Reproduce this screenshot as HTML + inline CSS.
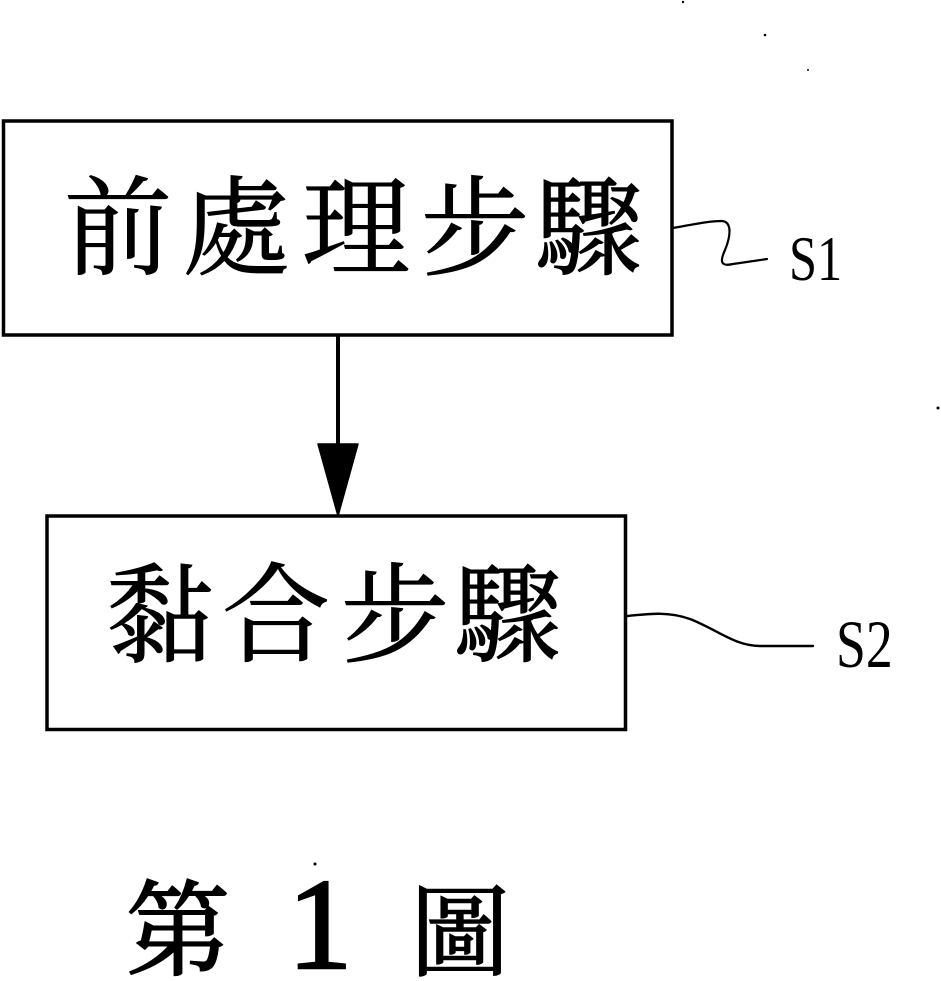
<!DOCTYPE html>
<html>
<head>
<meta charset="utf-8">
<style>
  html, body { margin: 0; padding: 0; background: #fff; }
  body { width: 941px; height: 981px; overflow: hidden; }
  svg { display: block; }
  .cjk { font-family: "Liberation Serif", "Noto Serif CJK SC", serif; font-size: 108px; fill: #000; stroke: #000; stroke-width: 1; }
  .lat { font-family: "Liberation Serif", serif; fill: #000; }
</style>
</head>
<body>
<svg width="941" height="981" viewBox="0 0 941 981" xmlns="http://www.w3.org/2000/svg">
  <rect x="0" y="0" width="941" height="981" fill="#fff"/>

  <!-- Box 1 -->
  <rect x="3.5" y="121" width="668.5" height="214" fill="none" stroke="#000" stroke-width="3.5"/>
  <g class="cjk" text-anchor="middle">
    <text x="118" y="266">前</text>
    <text x="236" y="266">處</text>
    <text x="356" y="266">理</text>
    <text x="475" y="266">步</text>
    <text x="589" y="266">驟</text>
  </g>

  <!-- S1 leader -->
  <path d="M673,228 C 690,225 708,221 722,221 C 733,222 730,238 725,250 C 720,261 720,267 733,264 L 767,259"
        fill="none" stroke="#000" stroke-width="2.2" stroke-linecap="round"/>
  <text class="lat" font-size="63" transform="translate(789,280) scale(0.8,1)">S1</text>

  <!-- Arrow -->
  <line x1="338" y1="335" x2="338" y2="448" stroke="#000" stroke-width="4"/>
  <path d="M318,444 L358,444 L338,516 Z" fill="#000" stroke="#000" stroke-width="1.5" stroke-linejoin="round"/>

  <!-- Box 2 -->
  <rect x="47" y="516" width="578.5" height="213.5" fill="none" stroke="#000" stroke-width="3.5"/>
  <g class="cjk" text-anchor="middle">
    <text x="160" y="653">黏</text>
    <text x="276" y="653">合</text>
    <text x="395" y="653">步</text>
    <text x="508" y="653">驟</text>
  </g>

  <!-- S2 leader -->
  <path d="M627,616 C 648,614 668,611 690,619 C 718,630 735,646 760,646 L 813,646"
        fill="none" stroke="#000" stroke-width="2.4" stroke-linecap="round"/>
  <text class="lat" font-size="68" transform="translate(836,667) scale(0.79,1)">S2</text>

  <!-- Caption -->
  <text class="cjk" x="178" y="967" text-anchor="middle" style="font-size:104px; stroke-width:2">第</text>
  <text class="lat" x="320" y="968" text-anchor="middle" font-size="130" stroke="#000" stroke-width="2.5">1</text>
  <text class="cjk" x="460" y="968" text-anchor="middle" style="font-size:100px; stroke-width:1.5">圖</text>

  <!-- specks -->
  <circle cx="683" cy="2" r="1.2" fill="#000"/>
  <circle cx="765" cy="35" r="1.3" fill="#000"/>
  <circle cx="808" cy="70" r="1" fill="#000"/>
  <circle cx="938" cy="408" r="1.5" fill="#000"/>
  <circle cx="315" cy="864" r="1.5" fill="#000"/>
</svg>
</body>
</html>
